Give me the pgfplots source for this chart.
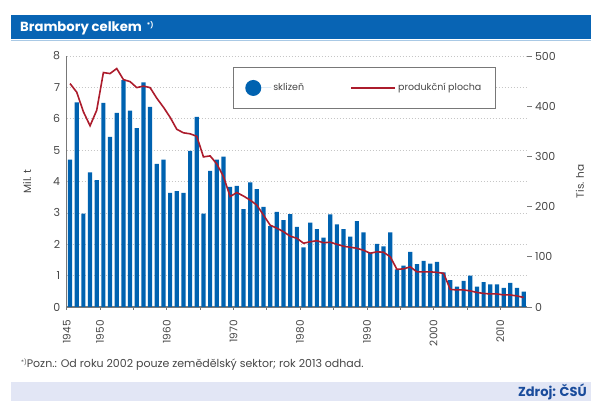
\documentclass[border=0pt]{standalone}
\usepackage{fontspec}
\setmainfont{Poppins}
\usepackage{pgfplots}
\usepackage{pgfplotstable}
\pgfplotsset{compat=1.18}

\definecolor{barblue}{RGB}{0,98,176}
\definecolor{titleblue}{RGB}{8,100,180}
\definecolor{linered}{RGB}{172,28,44}
\definecolor{footband}{RGB}{226,230,245}
\definecolor{srcblue}{RGB}{25,75,155}
\definecolor{txtgray}{RGB}{70,70,70}
\definecolor{axisgray}{RGB}{120,120,120}

\pgfplotsset{
  longline legend/.style={legend image code/.code={\draw[linered, line width=2pt] (0pt,0pt) -- (34pt,0pt); \path (0pt,0pt) -- (44pt,0pt);}},
  dot legend/.style={legend image code/.code={\fill[barblue] (8pt,0pt) circle (8pt); \path (0pt,0pt) -- (26pt,0pt);}},
}

% harvest, mil. t
\pgfplotstableread{
year val
1945 4.70
1946 6.52
1947 2.98
1948 4.29
1949 4.04
1950 6.51
1951 5.42
1952 6.19
1953 7.23
1954 6.26
1955 5.70
1956 7.16
1957 6.38
1958 4.56
1959 4.70
1960 3.64
1961 3.69
1962 3.64
1963 4.98
1964 6.06
1965 2.98
1966 4.34
1967 4.70
1968 4.79
1969 3.83
1970 3.86
1971 3.12
1972 3.97
1973 3.76
1974 3.19
1975 2.58
1976 3.03
1977 2.77
1978 2.96
1979 2.55
1980 1.90
1981 2.69
1982 2.48
1983 2.21
1984 2.95
1985 2.63
1986 2.48
1987 2.24
1988 2.74
1989 2.38
1990 1.74
1991 2.01
1992 1.93
1993 2.38
1994 1.20
1995 1.32
1996 1.76
1997 1.37
1998 1.47
1999 1.38
2000 1.44
2001 1.10
2002 0.86
2003 0.65
2004 0.83
2005 1.00
2006 0.65
2007 0.79
2008 0.72
2009 0.72
2010 0.61
2011 0.77
2012 0.61
2013 0.49
}\harvest

% area, thous. ha
\pgfplotstableread{
year val
1945 445
1946 428
1947 389
1948 361
1949 392
1950 467
1951 465
1952 475
1953 453
1954 449
1955 437
1956 440
1957 437
1958 416
1959 398
1960 378
1961 354
1962 347
1963 345
1964 340
1965 299
1966 301
1967 285
1968 260
1969 220
1970 228
1971 221
1972 213
1973 203
1974 183
1975 163
1976 157
1977 150
1978 141
1979 137
1980 127
1981 130
1982 132
1983 128
1984 129
1985 125
1986 121
1987 119
1988 117
1989 113
1990 107
1991 110
1992 109
1993 100
1994 75
1995 76
1996 80
1997 70
1998 70
1999 70
2000 69
2001 67
2002 35
2003 34
2004 34
2005 32
2006 29
2007 27
2008 26
2009 26
2010 24
2011 24
2012 22
2013 19
}\area

\begin{document}
\begin{tikzpicture}
\path[use as bounding box] (0pt,0pt) rectangle (591pt,401pt);

% title band
\fill[titleblue] (11pt,362pt) rectangle (591pt,386pt);
\draw[titleblue!35, line width=1.2pt] (11pt,360.5pt) -- (591pt,360.5pt);
\node[anchor=base west, text=white, inner sep=0pt, font=\bfseries\fontsize{13.2}{15}\selectfont]
  at (20pt,369pt) {Brambory celkem\hspace{5pt}\raisebox{4pt}{\fontsize{6.5}{7}\selectfont *)}};

% footer
\node[anchor=base west, text=txtgray, inner sep=0pt, font=\fontsize{11}{13}\selectfont]
  at (21pt,33pt) {\raisebox{3.5pt}{\fontsize{6}{7}\selectfont *)}Pozn.: Od roku 2002 pouze zemědělský sektor; rok 2013 odhad.};
\fill[footband] (11pt,0pt) rectangle (591pt,19.3pt);
\node[anchor=base east, text=srcblue, inner sep=0pt, font=\bfseries\fontsize{13}{15}\selectfont]
  at (587pt,4pt) {Zdroj: ČSÚ};

\begin{axis}[
  at={(66.7pt,94pt)}, anchor=south west,
  scale only axis, width=460.3pt, height=251pt,
  xmin=1944.5, xmax=2013.5, ymin=0, ymax=8,
  ybar, bar width=4.2pt,
  axis x line*=bottom, axis y line*=left,
  axis line style={axisgray, line width=1.5pt},
  xtick={1944.5,1949.5,...,2009.5},
  xticklabels={1945,1950,,1960,,1970,,1980,,1990,,2000,,2010},
  x tick label style={rotate=90, anchor=east, inner xsep=10pt, font=\fontsize{10.5}{12}\selectfont, text=txtgray},
  ytick={0,1,...,8},
  y tick label style={font=\fontsize{11}{13}\selectfont, text=txtgray},
  /pgf/number format/assume math mode=true,
  ymajorgrids,
  grid style={gray!45, dash pattern=on 1.5pt off 1.5pt, line width=0.7pt},
  tick align=outside, major tick length=3pt,
  xtick style={axisgray, line width=0.8pt},
  ytick style={draw=none},
  ylabel={Mil. t},
  every axis y label/.style={at={(axis description cs:-0.086,0.5)}, rotate=90, anchor=center,
    font=\fontsize{10.5}{12}\selectfont, text=txtgray},
  legend columns=2,
  legend cell align=left,
  legend style={at={(0.361,0.956)}, anchor=north west, draw=axisgray, line width=0.8pt,
    font=\fontsize{9.5}{11}\selectfont, text=txtgray, inner xsep=12pt, inner ysep=12.5pt,
    /tikz/column 2/.style={column sep=44pt}},
]
\addplot[fill=barblue, draw=none, dot legend]
  table[x=year, y=val] {\harvest};
\addlegendentry{sklizeň}
\addlegendimage{linered, line width=2pt, longline legend}
\addlegendentry{produkční plocha}
\end{axis}

\begin{axis}[
  at={(66.7pt,94pt)}, anchor=south west,
  scale only axis, width=460.3pt, height=251pt,
  xmin=1944.5, xmax=2013.5, ymin=0, ymax=500,
  axis x line=none, axis y line*=right,
  y axis line style={draw=none},
  ytick={0,100,...,500},
  y tick label style={font=\fontsize{11}{13}\selectfont, text=txtgray},
  /pgf/number format/assume math mode=true,
  tick align=outside, major tick length=4.5pt,
  ytick style={axisgray, line width=0.8pt},
  ylabel={Tis. ha},
  every axis y label/.style={at={(axis description cs:1.115,0.5)}, rotate=90, anchor=center,
    font=\fontsize{10.5}{12}\selectfont, text=txtgray},
]
\addplot[linered, line width=1.6pt, mark=none] table[x=year, y=val] {\area};
\end{axis}
\end{tikzpicture}
\end{document}
